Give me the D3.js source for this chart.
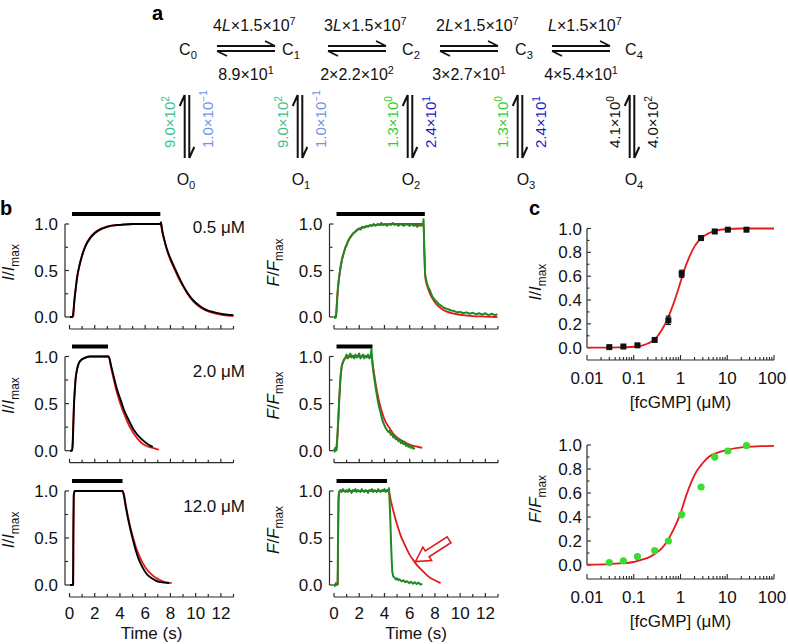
<!DOCTYPE html>
<html><head><meta charset="utf-8">
<script src="https://cdn.jsdelivr.net/npm/d3@7"></script>
<style>body{margin:0;background:#fff}svg{display:block;font-family:"Liberation Sans",Arial,Helvetica,sans-serif}</style>
</head><body><svg id="chart" width="788" height="644"></svg>
<script>
// ---------------- DATA ----------------
// Panel a: kinetic scheme
const closedStates = ["C0","C1","C2","C3","C4"];
const openStates = ["O0","O1","O2","O3","O4"];
const fwdMult = ["4","3","2",""];
const fwdRate = "×1.5×10", fwdExp = "7";
const revMant = ["8.9×10","2×2.2×10","3×2.7×10","4×5.4×10"];
const revExp = ["1","2","1","1"];
const openMant = ["9.0×10","9.0×10","1.3×10","1.3×10","4.1×10"];
const openExp = ["2","2","0","0","0"];
const closeMant = ["1.0×10","1.0×10","2.4×10","2.4×10","4.0×10"];
const closeExp = ["−1","−1","1","1","2"];
const openColors = ["#3cbf8e","#3cbf8e","#2fcf2f","#2fcf2f","#111"];
const closeColors = ["#6f93e6","#6f93e6","#1c1cc4","#1c1cc4","#111"];

// Panel b: time courses [t (s), normalized value]
const concLabels = ["0.5 μM","2.0 μM","12.0 μM"];
const barStart = [0.2, 0.2, 0.2];
const barEnd = [7.2, 3.05, 4.2];
const xTickLabels = [0,2,4,6,8,10,12];

const iBlack05 = [[0,0],[0.25,0],[0.3,0.05],[0.4,0.2],[0.5,0.32],[0.6,0.43],[0.8,0.56],[1.0,0.66],[1.3,0.77],[1.6,0.84],[2.0,0.9],[2.5,0.945],[3.0,0.97],[3.5,0.985],[4.0,0.99],[5.0,1.0],[6.0,1.0],[7.2,1.0],[7.25,1.02],[7.35,0.93],[7.5,0.84],[7.7,0.74],[8.0,0.63],[8.3,0.54],[8.6,0.45],[9.0,0.34],[9.4,0.25],[9.8,0.18],[10.3,0.12],[10.8,0.08],[11.5,0.05],[12.2,0.03],[13,0.02]];
const iRed05 = [[0.3,0],[0.4,0.18],[0.5,0.3],[0.6,0.41],[0.8,0.56],[1.0,0.67],[1.3,0.78],[1.6,0.85],[2.0,0.91],[2.5,0.95],[3,0.975],[4,0.99],[5,1.0],[7.2,1.0],[7.35,0.92],[7.5,0.83],[7.7,0.73],[8.0,0.61],[8.3,0.52],[8.6,0.43],[9.0,0.33],[9.4,0.24],[9.8,0.17],[10.3,0.11],[10.8,0.07],[11.5,0.04],[12.2,0.02],[13,0.01]];
const iBlack2 = [[0,0],[0.2,0],[0.25,0.05],[0.3,0.25],[0.35,0.46],[0.42,0.63],[0.48,0.75],[0.6,0.86],[0.74,0.93],[0.9,0.96],[1.13,0.98],[1.6,1.0],[3.1,1.0],[3.3,0.9],[3.5,0.79],[3.75,0.66],[4.05,0.54],[4.3,0.44],[4.6,0.35],[5.1,0.22],[5.65,0.13],[6.1,0.08],[6.6,0.04]];
const iRed2 = [[0.2,0],[0.25,0.1],[0.3,0.3],[0.35,0.5],[0.42,0.66],[0.48,0.77],[0.6,0.87],[0.74,0.93],[0.9,0.96],[1.13,0.98],[1.6,1.0],[3.1,1.0],[3.3,0.88],[3.5,0.76],[3.75,0.62],[4.05,0.49],[4.3,0.4],[4.6,0.3],[5.1,0.18],[5.65,0.09],[6.1,0.05],[6.6,0.03],[7.1,0.01]];
const iBlack12 = [[0,0],[0.28,0],[0.3,0.5],[0.33,0.95],[0.4,1.0],[4.2,1.0],[4.3,0.96],[4.45,0.84],[4.65,0.7],[4.85,0.58],[5.05,0.47],[5.25,0.37],[5.5,0.27],[5.78,0.19],[6.1,0.12],[6.44,0.08],[6.8,0.05],[7.23,0.03],[7.9,0.02]];
const iRed12 = [[0.3,0],[0.32,0.6],[0.36,0.97],[0.45,1.0],[4.2,1.0],[4.3,0.97],[4.45,0.86],[4.65,0.72],[4.85,0.6],[5.05,0.5],[5.25,0.41],[5.5,0.32],[5.78,0.24],[6.1,0.17],[6.44,0.12],[6.8,0.08],[7.23,0.05],[7.6,0.03],[8.1,0.02]];

const fGreen05 = [[0,0.01],[0.08,-0.01],[0.16,0.0],[0.2,0.06],[0.25,0.18],[0.3,0.28],[0.34,0.34],[0.4,0.42],[0.45,0.47],[0.52,0.54],[0.6,0.6],[0.7,0.66],[0.8,0.7],[0.9,0.75],[1.0,0.77],[1.12,0.82],[1.25,0.85],[1.38,0.87],[1.52,0.9],[1.65,0.91],[1.8,0.93],[1.95,0.95],[2.1,0.94],[2.25,0.97],[2.4,0.96],[2.55,0.98],[2.7,0.97],[2.85,0.99],[3.0,0.98],[3.15,1.0],[3.3,0.98],[3.45,1.0],[3.6,0.99],[3.75,1.01],[3.9,0.99],[4.05,1.0],[4.2,0.98],[4.35,1.0],[4.5,0.99],[4.65,1.01],[4.8,0.99],[4.95,1.0],[5.1,0.98],[5.25,1.0],[5.4,0.99],[5.55,0.98],[5.7,1.0],[5.85,0.99],[6.0,0.98],[6.15,1.0],[6.3,0.98],[6.45,0.99],[6.6,0.97],[6.75,0.99],[6.9,0.98],[7.05,0.99],[7.1,1.05],[7.16,0.72],[7.22,0.47],[7.3,0.4],[7.4,0.35],[7.5,0.31],[7.6,0.29],[7.7,0.25],[7.8,0.22],[7.95,0.19],[8.1,0.17],[8.3,0.14],[8.5,0.12],[8.7,0.1],[8.9,0.09],[9.1,0.08],[9.3,0.07],[9.5,0.065],[9.75,0.05],[10.0,0.055],[10.25,0.04],[10.5,0.05],[10.75,0.035],[11.0,0.045],[11.25,0.03],[11.5,0.04],[11.75,0.025],[12.0,0.04],[12.25,0.02],[12.5,0.035],[12.75,0.02],[12.95,0.03]];
const fRed05 = [[0.16,0],[0.2,0.1],[0.3,0.3],[0.45,0.47],[0.6,0.59],[0.8,0.7],[1.0,0.78],[1.25,0.85],[1.52,0.9],[2.0,0.95],[2.6,0.975],[3.5,0.99],[4.5,1.0],[7.1,1.0],[7.15,0.75],[7.24,0.42],[7.4,0.33],[7.58,0.26],[7.8,0.2],[8.1,0.14],[8.5,0.09],[8.9,0.06],[9.5,0.035],[10.2,0.02],[11,0.01],[12,0.005],[12.95,0.0]];
const fGreen2 = [[0,0.02],[0.05,-0.01],[0.1,0.03],[0.15,0.0],[0.2,0.04],[0.25,0.12],[0.3,0.24],[0.35,0.36],[0.4,0.5],[0.45,0.63],[0.5,0.74],[0.55,0.83],[0.6,0.89],[0.7,0.94],[0.8,0.97],[0.9,0.99],[1.0,1.02],[1.1,0.98],[1.2,1.01],[1.3,1.03],[1.4,0.99],[1.5,1.01],[1.6,0.98],[1.7,1.02],[1.8,0.99],[1.9,1.01],[2.0,1.03],[2.1,0.98],[2.2,1.0],[2.3,1.02],[2.4,0.98],[2.5,1.01],[2.6,0.99],[2.7,1.02],[2.8,0.98],[2.9,1.0],[2.97,1.08],[3.05,0.92],[3.12,0.84],[3.2,0.76],[3.3,0.67],[3.4,0.59],[3.5,0.51],[3.6,0.45],[3.7,0.4],[3.8,0.34],[3.9,0.3],[4.0,0.27],[4.1,0.24],[4.2,0.22],[4.3,0.2],[4.4,0.21],[4.5,0.17],[4.6,0.18],[4.7,0.14],[4.8,0.16],[4.9,0.12],[5.0,0.14],[5.1,0.1],[5.2,0.12],[5.3,0.08],[5.4,0.1],[5.5,0.07],[5.6,0.09],[5.7,0.05],[5.8,0.07],[5.9,0.04],[6.0,0.06],[6.1,0.03],[6.2,0.05],[6.3,0.02],[6.4,0.03]];
const fRed2 = [[0.2,0],[0.3,0.2],[0.4,0.5],[0.5,0.75],[0.6,0.88],[0.75,0.95],[1.0,0.99],[1.4,1.0],[2.98,1.0],[3.1,0.89],[3.37,0.66],[3.55,0.54],[3.76,0.43],[3.95,0.35],[4.16,0.29],[4.4,0.24],[4.7,0.18],[5.1,0.13],[5.5,0.1],[6.0,0.065],[6.5,0.045],[7.0,0.03]];
const fGreen12 = [[0,0.01],[0.08,-0.01],[0.15,0.02],[0.22,0.0],[0.28,0.01],[0.3,0.2],[0.33,0.6],[0.36,0.9],[0.4,0.99],[0.5,1.01],[0.6,0.99],[0.7,1.02],[0.8,1.0],[0.9,0.99],[1.0,1.01],[1.1,0.99],[1.2,1.02],[1.3,1.0],[1.4,0.98],[1.5,1.01],[1.6,1.0],[1.7,1.02],[1.8,0.99],[1.9,1.01],[2.0,1.0],[2.1,0.99],[2.2,1.02],[2.3,1.0],[2.4,0.99],[2.5,1.01],[2.6,1.0],[2.7,0.98],[2.8,1.01],[2.9,1.0],[3.0,1.02],[3.1,0.99],[3.2,1.01],[3.3,1.0],[3.4,0.99],[3.5,1.02],[3.6,1.0],[3.7,0.99],[3.8,1.01],[3.9,1.0],[4.0,1.02],[4.1,0.99],[4.2,1.01],[4.3,1.0],[4.36,1.03],[4.42,0.85],[4.47,0.68],[4.52,0.45],[4.57,0.28],[4.62,0.14],[4.7,0.09],[4.8,0.08],[4.9,0.06],[5.0,0.07],[5.1,0.05],[5.2,0.06],[5.35,0.04],[5.5,0.05],[5.65,0.03],[5.8,0.04],[5.95,0.02],[6.1,0.035],[6.25,0.015],[6.4,0.03],[6.55,0.01],[6.7,0.025],[6.85,0.005],[7.0,0.01]];
const fRed12 = [[0.3,0],[0.33,0.6],[0.38,0.96],[0.5,1.0],[4.34,1.0],[4.5,0.9],[4.7,0.79],[4.9,0.69],[5.1,0.6],[5.3,0.52],[5.5,0.46],[5.74,0.39],[6.0,0.32],[6.26,0.27],[6.53,0.22],[6.8,0.18],[7.1,0.14],[7.4,0.1],[7.7,0.07],[8.0,0.05],[8.45,0.02]];

// Panel c: concentration-response
const fcConc = [0.03,0.06,0.12,0.28,0.55,1.06,2.75,5.4,10.3,25.8];
const iMean = [0.005,0.01,0.02,0.065,0.23,0.62,0.92,0.975,0.99,0.99];
const iErr = [0.01,0.01,0.01,0.01,0.035,0.03,0.015,0.01,0.01,0.01];
const fMean = [0.02,0.035,0.07,0.12,0.2,0.42,0.65,0.9,0.95,0.995];
const fErr = [0.015,0.02,0.025,0.015,0.02,0.03,0.02,0.03,0.015,0.01];
const iFitConc = [0.01,0.05,0.1,0.15,0.2,0.3,0.4,0.5,0.65,0.8,1.0,1.2,1.5,2,2.5,3,4,6,10,20,50,100];
const iFitVal  = [0.0,0.003,0.008,0.018,0.035,0.08,0.15,0.22,0.33,0.43,0.55,0.65,0.75,0.85,0.9,0.93,0.96,0.985,0.995,1.0,1.0,1.0];
const fFitConc = [0.01,0.03,0.05,0.1,0.15,0.2,0.3,0.4,0.5,0.7,1.0,1.3,1.7,2.2,3,4,6,10,20,50,100];
const fFitVal  = [0.002,0.008,0.013,0.025,0.045,0.06,0.1,0.14,0.19,0.29,0.43,0.57,0.69,0.78,0.85,0.9,0.935,0.96,0.98,0.99,0.993];
const logTickLabels = ["0.01","0.1","1","10","100"];

// ---------------- DRAWING ----------------
const RED = "#e3191c", GREEN = "#1f8a22", LIME = "#39dd33", AX = "#2a2a2a";
const svg = d3.select("#chart");

function rich(parent, segs, size, attrs) {
  const t = parent.append("text").attr("font-size", size);
  Object.entries(attrs || {}).forEach(([k, v]) => t.attr(k, v));
  let shift = 0;
  segs.forEach(s => {
    const sp = t.append("tspan").text(s.t);
    let target = 0, fs = size;
    if (s.sup) { target = -size * 0.4; fs = size * 0.68; }
    else if (s.sub) { target = size * 0.28; fs = size * 0.7; }
    if (fs !== size) sp.attr("font-size", fs);
    sp.attr("dy", (target - shift).toFixed(2));
    shift = target;
    if (s.i) sp.attr("font-style", "italic");
    if (s.fill) sp.attr("fill", s.fill);
  });
  return t;
}
function stateLabel(name) { return [{t: name[0]}, {t: name.slice(1), sub: true}]; }

// panel letters
[["a",152,20],["b",0,215],["c",529,215]].forEach(([l,x,y]) =>
  svg.append("text").attr("x",x).attr("y",y).attr("font-size",20).attr("font-weight","bold").text(l));

// ---- Panel a ----
const cPos = [188, 291, 411, 524, 634];
const colPos = [187, 300, 410, 520, 632];
const oPos = [186, 301, 411, 526, 634];
const arrowX = [217, 328, 440, 552], arrowW = 58;
const ga = svg.append("g").attr("fill", "#111");
closedStates.forEach((s, i) => rich(ga, stateLabel(s), 16, {x: cPos[i], y: 55, "text-anchor": "middle"}));
openStates.forEach((s, i) => rich(ga, stateLabel(s), 16, {x: oPos[i], y: 185, "text-anchor": "middle"}));
fwdMult.forEach((m, i) => {
  const segs = [];
  if (m) segs.push({t: m});
  segs.push({t: "L", i: true}, {t: fwdRate}, {t: fwdExp, sup: true});
  rich(ga, segs, 16, {x: arrowX[i] - 4, y: 31});
  rich(ga, [{t: revMant[i]}, {t: revExp[i], sup: true}], 16, {x: arrowX[i] + arrowW / 2, y: 80, "text-anchor": "middle"});
  const x1 = arrowX[i], x2 = x1 + arrowW;
  ga.append("path").attr("d", `M${x1},46H${x2}M${x2},46L${x2-10},41M${x1},51H${x2}M${x1},51L${x1+10},56`)
    .attr("stroke", "#111").attr("stroke-width", 1.8).attr("fill", "none");
});
colPos.forEach((c, i) => {
  const l = c - 2.3, r = c + 2.3;
  ga.append("path").attr("d", `M${l},158V95M${l},95L${l-5},106M${r},95V158M${r},158L${r+5},147`)
    .attr("stroke", "#111").attr("stroke-width", 2).attr("fill", "none");
  rich(ga, [{t: openMant[i]}, {t: openExp[i], sup: true}], 15,
    {transform: `translate(${c - 12},148) rotate(-90)`, fill: openColors[i]});
  rich(ga, [{t: closeMant[i]}, {t: closeExp[i], sup: true}], 15,
    {transform: `translate(${c + 26},148) rotate(-90)`, fill: closeColors[i]});
});

// ---- Panel b ----
const leftX = d3.scaleLinear().domain([0, 13]).range([69.5, 233.5]);
const midX = d3.scaleLinear().domain([0, 13]).range([334, 498]);
const rowTop = [224, 356.5, 491], rowBottom = [317, 450.7, 585];
const iFits = [iRed05, iRed2, iRed12], iTraces = [iBlack05, iBlack2, iBlack12];
const fFits = [fRed05, fRed2, fRed12], fTraces = [fGreen05, fGreen2, fGreen12];

function yLabel(g, x, yc, sym) {
  rich(g, [{t: sym, i: true}, {t: "/"}, {t: sym, i: true}, {t: "max", sub: true}], 17,
    {transform: `translate(${x},${yc}) rotate(-90)`, "text-anchor": "middle", fill: "#111"});
}

function tracePanel(x, r, fit, trace, color, sym, label) {
  const y = d3.scaleLinear().domain([0, 1]).range([rowBottom[r], rowTop[r]]);
  const g = svg.append("g");
  const ax = x(0) - 4.5;
  g.append("line").attr("x1", ax).attr("x2", ax).attr("y1", y(0)).attr("y2", y(1)).attr("stroke", AX).attr("stroke-width", 1.2);
  [0, 0.25, 0.5, 0.75, 1].forEach(v => g.append("line").attr("x1", ax).attr("x2", ax + (v * 2 % 1 === 0 ? 4 : 3))
    .attr("y1", y(v)).attr("y2", y(v)).attr("stroke", AX).attr("stroke-width", 1.2));
  [0, 0.5, 1].forEach(v => g.append("text").attr("x", ax - 7).attr("y", y(v)).attr("dy", "0.36em")
    .attr("text-anchor", "end").attr("font-size", 17).attr("fill", "#111").text(d3.format(".1f")(v)));
  const xy = rowBottom[r] + 12;
  g.append("line").attr("x1", x(0)).attr("x2", x(13)).attr("y1", xy).attr("y2", xy).attr("stroke", AX).attr("stroke-width", 1.2);
  d3.range(0, 14).forEach(t => g.append("line").attr("x1", x(t)).attr("x2", x(t)).attr("y1", xy)
    .attr("y2", xy - (t % 2 === 0 ? 4 : 3)).attr("stroke", AX).attr("stroke-width", 1.2));
  if (r === 2) {
    xTickLabels.forEach(t => g.append("text").attr("x", x(t)).attr("y", xy + 22).attr("text-anchor", "middle")
      .attr("font-size", 17).attr("fill", "#111").text(t));
    g.append("text").attr("x", (x(0) + x(13)) / 2).attr("y", xy + 42).attr("text-anchor", "middle")
      .attr("font-size", 17).attr("fill", "#111").text("Time (s)");
  }
  g.append("line").attr("x1", x(barStart[r])).attr("x2", x(barEnd[r])).attr("y1", y(1) - 10).attr("y2", y(1) - 10)
    .attr("stroke", "#000").attr("stroke-width", 4);
  const smooth = d3.line().x(d => x(d[0])).y(d => y(d[1])).curve(d3.curveMonotoneX);
  const lin = d3.line().x(d => x(d[0])).y(d => y(d[1]));
  g.append("path").attr("d", smooth(fit)).attr("fill", "none").attr("stroke", RED).attr("stroke-width", 1.8);
  g.append("path").attr("d", (color === "#000" ? smooth : lin)(trace)).attr("fill", "none").attr("stroke", color)
    .attr("stroke-width", color === "#000" ? 1.9 : 2).attr("stroke-linejoin", "round");
  yLabel(g, ax - 51, (y(0) + y(1)) / 2 - 8, sym);
  if (label) g.append("text").attr("x", 245).attr("y", [233, 377, 512][r]).attr("text-anchor", "end")
    .attr("font-size", 17).attr("fill", "#111").text(label);
  return {g, y};
}
for (let r = 0; r < 3; r++) {
  tracePanel(leftX, r, iFits[r], iTraces[r], "#000", "I", concLabels[r]);
  const m = tracePanel(midX, r, fFits[r], fTraces[r], GREEN, "F", null);
  if (r === 2) {
    m.g.append("path").attr("d", "M0,0L14,-8L14,-3.5L40,-3.5L40,3.5L14,3.5L14,8Z")
      .attr("transform", `translate(${midX(6.3) + 2},${m.y(0.25)}) rotate(-33)`)
      .attr("fill", "#fff").attr("stroke", RED).attr("stroke-width", 1.6);
  }
}

// ---- Panel c ----
const cX = d3.scaleLog().domain([0.01, 100]).range([587, 774]);
const cTop = [228.5, 445], cBottom = [347.7, 565], cAxisY = [360, 579];
function dosePanel(k, mean, err, fitC, fitV, sym, marker) {
  const y = d3.scaleLinear().domain([0, 1]).range([cBottom[k], cTop[k]]);
  const g = svg.append("g");
  const ax = cX(0.01);
  g.append("line").attr("x1", ax).attr("x2", ax).attr("y1", y(0)).attr("y2", y(1)).attr("stroke", AX).attr("stroke-width", 1.2);
  d3.range(0, 11).forEach(i => g.append("line").attr("x1", ax).attr("x2", ax + (i % 2 === 0 ? 4 : 2.5))
    .attr("y1", y(i / 10)).attr("y2", y(i / 10)).attr("stroke", AX).attr("stroke-width", 1.1));
  d3.range(0, 6).forEach(i => g.append("text").attr("x", ax - 5).attr("y", y(i / 5)).attr("dy", "0.36em")
    .attr("text-anchor", "end").attr("font-size", 17).attr("fill", "#111").text(d3.format(".1f")(i / 5)));
  const xy = cAxisY[k];
  g.append("line").attr("x1", cX(0.01)).attr("x2", cX(100)).attr("y1", xy).attr("y2", xy).attr("stroke", AX).attr("stroke-width", 1.2);
  [0.01, 0.1, 1, 10].forEach(d => d3.range(1, 10).forEach(m => g.append("line").attr("x1", cX(d * m)).attr("x2", cX(d * m))
    .attr("y1", xy).attr("y2", xy - (m === 1 ? 5 : 3)).attr("stroke", AX).attr("stroke-width", 1.1)));
  g.append("line").attr("x1", cX(100)).attr("x2", cX(100)).attr("y1", xy).attr("y2", xy - 5).attr("stroke", AX).attr("stroke-width", 1.1);
  logTickLabels.forEach(s => g.append("text").attr("x", Math.min(cX(+s), 772)).attr("y", xy + 24).attr("text-anchor", "middle")
    .attr("font-size", 17).attr("fill", "#111").text(s));
  g.append("text").attr("x", (cX(0.01) + cX(100)) / 2).attr("y", xy + 48).attr("text-anchor", "middle")
    .attr("font-size", 17).attr("fill", "#111").text("[fcGMP] (μM)");
  const line = d3.line().x((d, i) => cX(fitC[i])).y(d => y(d)).curve(d3.curveMonotoneX);
  g.append("path").attr("d", line(fitV)).attr("fill", "none").attr("stroke", RED).attr("stroke-width", 1.8);
  const col = marker === "sq" ? "#111" : LIME;
  fcConc.forEach((c, i) => {
    const px = cX(c);
    g.append("line").attr("x1", px).attr("x2", px).attr("y1", y(mean[i] - err[i])).attr("y2", y(mean[i] + err[i]))
      .attr("stroke", col).attr("stroke-width", marker === "sq" ? 1.5 : 3);
    if (marker === "sq") {
      [mean[i] - err[i], mean[i] + err[i]].forEach(v => g.append("line").attr("x1", px - 2.5).attr("x2", px + 2.5)
        .attr("y1", y(v)).attr("y2", y(v)).attr("stroke", col).attr("stroke-width", 1.2));
      g.append("rect").attr("x", px - 3).attr("y", y(mean[i]) - 3).attr("width", 6).attr("height", 6).attr("fill", col);
    } else {
      g.append("circle").attr("cx", px).attr("cy", y(mean[i])).attr("r", 3.6).attr("fill", col);
    }
  });
  yLabel(g, ax - 46, (y(0) + y(1)) / 2 - 6, sym);
}
dosePanel(0, iMean, iErr, iFitConc, iFitVal, "I", "sq");
dosePanel(1, fMean, fErr, fFitConc, fFitVal, "F", "dot");
</script></body></html>
